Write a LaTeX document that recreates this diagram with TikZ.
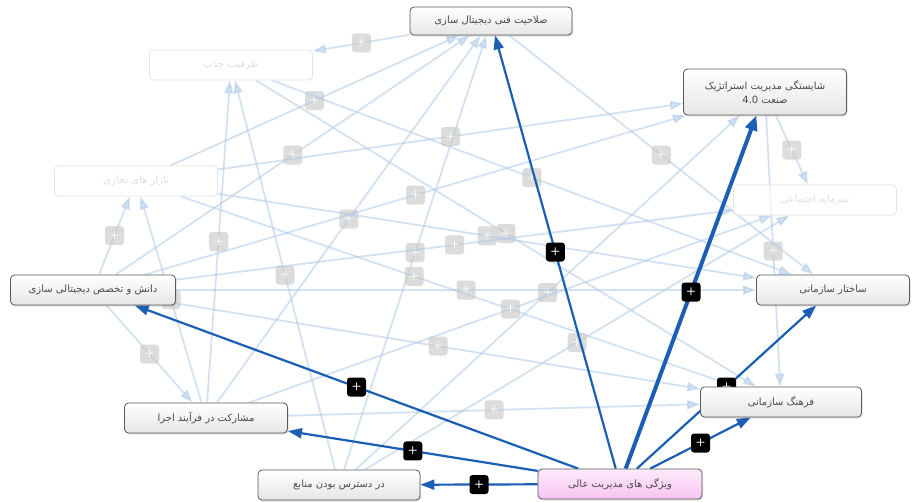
\documentclass[tikz,border=0pt]{standalone}
\usepackage{fontspec}
\TeXXeTstate=1
\newfontfamily\fa[Script=Arabic]{DejaVu Sans}
\usetikzlibrary{arrows.meta,shadows}
\pgfdeclarelayer{back}
\pgfdeclarelayer{bg}
\pgfdeclarelayer{fadel}
\pgfdeclarelayer{mid}
\pgfsetlayers{back,bg,fadel,mid,main}
\definecolor{hl}{HTML}{1B5FB5}
\definecolor{lt}{HTML}{A9C6E6}
\definecolor{txt}{HTML}{4A4A4A}
\definecolor{pinkA}{HTML}{FDEBFB}
\definecolor{pinkB}{HTML}{F8C4F1}
\tikzset{
  box/.style={draw=gray!70!black, rounded corners=4pt, top color=white, bottom color=gray!20,
    text=txt, font=\fa\fontsize{10}{14}\selectfont, minimum height=30, inner sep=2pt,
    line width=0.8pt, align=center,
    drop shadow={shadow xshift=1pt,shadow yshift=-1.5pt,opacity=0.25}},
  fadebox/.style={draw=gray!20, rounded corners=4pt, fill=white, fill opacity=0.7, text opacity=1,
    text=gray!25, font=\fa\fontsize{10}{14}\selectfont, minimum height=30, inner sep=2pt, line width=0.8pt},
  hlE/.style={draw=hl, line width=2.2pt, -{Triangle[length=14pt,width=10pt]}},
  ltE/.style={draw=lt, line width=1.8pt, opacity=0.5, -{Triangle[length=13pt,width=9pt]}},
  bm/.style={fill=black, rounded corners=3pt, minimum size=19, inner sep=0pt, text=white,
    font=\sffamily\bfseries\fontsize{11}{11}\selectfont, opacity=1},
  gm/.style={fill=gray!45, rounded corners=3pt, minimum size=19, inner sep=0pt, text=white,
    font=\sffamily\bfseries\fontsize{11}{11}\selectfont, fill opacity=0.6, text opacity=0.9}
}
\begin{document}
\begin{tikzpicture}[x=1pt,y=-1pt]
\useasboundingbox (0,0) rectangle (912,501);
\begin{pgfonlayer}{back}
\fill[white] (0,0) rectangle (912,501);
\end{pgfonlayer}
% faded nodes
\begin{pgfonlayer}{fadel}
\node[fadebox, minimum width=163] (Z) at (231,65) {\beginR ظرفیت جذب\endR};
\node[fadebox, minimum width=163] (B) at (136,181) {\beginR بازار های تجاری\endR};
\node[fadebox, minimum width=163] (C) at (815,200) {\beginR سرمایه اجتماعی\endR};
\end{pgfonlayer}
% solid nodes
\node[box, minimum width=162, minimum height=28] (T) at (491,21) {\beginR صلاحیت فنی دیجیتال سازی\endR};
\node[box, minimum width=163, minimum height=46] (S) at (765,92) {\beginR شایستگی مدیریت استراتژیک\endR\\\beginR صنعت \beginL4.0\endL\endR};
\node[box, minimum width=165] (D) at (93,290) {\beginR دانش و تخصص دیجیتالی سازی\endR};
\node[box, minimum width=163] (M) at (206,418) {\beginR مشارکت در فرآیند اجرا\endR};
\node[box, minimum width=162] (R) at (339,485) {\beginR در دسترس بودن منابع\endR};
\node[box, minimum width=164, top color=pinkA, bottom color=pinkB] (V) at (620,484) {\beginR ویژگی های مدیریت عالی\endR};
\node[box, minimum width=161] (F) at (781,402) {\beginR فرهنگ سازمانی\endR};
\node[box, minimum width=153] (K) at (833,290) {\beginR ساختار سازمانی\endR};
% light edges
\begin{pgfonlayer}{bg}
\foreach \a/\b/\p in {T/Z/.5, B/T/.5, M/T/.5, R/T/.5, T/K/.5, D/T/.5, B/S/.5, D/S/.5, R/S/.5,
  S/F/.5, S/C/.5, M/Z/.5, Z/F/.5, R/Z/.5, B/F/.42, B/K/.5, D/B/.5, D/C/.5, D/K/.5, D/M/.5,
  D/F/.5, M/C/.5, M/F/.5, R/C/.5, M/B/.5, Z/K/.5}
  \draw[ltE] (\a) -- node[gm, pos=\p]{+} (\b);
\end{pgfonlayer}
% highlighted edges
\begin{pgfonlayer}{mid}
\draw[hlE] (V) -- node[bm]{+} (T);
\draw[hlE, line width=4pt, -{Triangle[length=15pt,width=12pt]}] (V) -- node[bm]{+} (S);
\draw[hlE] (V) -- node[bm]{+} (D);
\draw[hlE] (V) -- node[bm]{+} (M);
\draw[hlE] (V) -- node[bm]{+} (R);
\draw[hlE] (V) -- node[bm]{+} (F);
\draw[hlE] (V) -- node[bm]{+} (K);
\end{pgfonlayer}
\end{tikzpicture}
\end{document}
